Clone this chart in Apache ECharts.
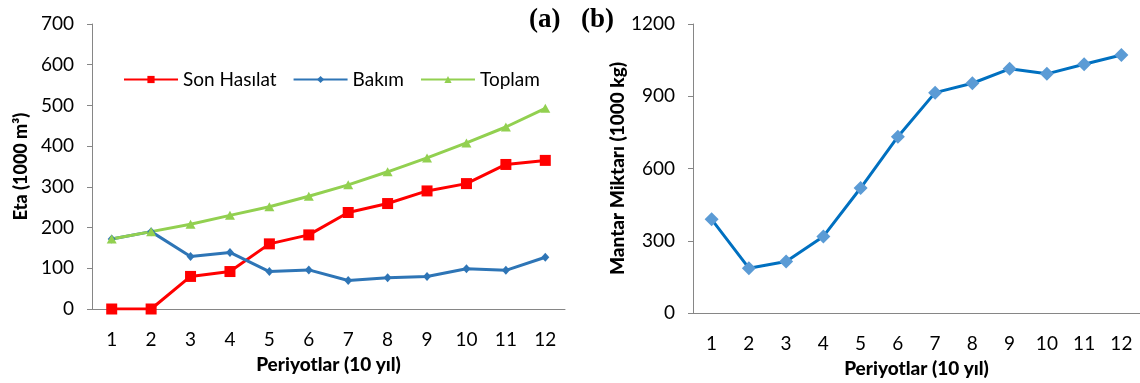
<!DOCTYPE html>
<html>
<head>
<meta charset="utf-8">
<script src="https://cdn.jsdelivr.net/npm/echarts@6/dist/echarts.min.js"></script>
<style>
  html, body { margin: 0; padding: 0; background: #fff; }
  #chart { width: 1140px; height: 383px; }
</style>
</head>
<body>
<div id="chart"></div>
<script>
// Periods (10-year steps)
const periods = ['1', '2', '3', '4', '5', '6', '7', '8', '9', '10', '11', '12'];

// (a) Harvest volume, 1000 m³
const sonHasilat = [0, 0, 80, 92, 160, 182, 237, 259, 290, 308, 355, 365];
const bakim      = [172, 190, 129, 139, 92, 96, 70, 77, 80, 99, 95, 127];
const toplam     = [172, 190, 208, 230, 251, 277, 305, 337, 371, 408, 447, 493];

// (b) Mushroom yield, 1000 kg
const mantar = [389, 186, 214, 318, 519, 732, 915, 954, 1014, 993, 1033, 1071];

const leftTicks = { min: 0, max: 700, interval: 100 };
const rightTicks = { min: 0, max: 1200, interval: 300 };

const FONT = 'Lato, "Liberation Sans", sans-serif';
const AXIS_GREY = '#868686';

const chart = echarts.init(document.getElementById('chart'), null, { renderer: 'canvas' });

function xAxisFor(gridIndex) {
  return {
    type: 'category',
    gridIndex: gridIndex,
    data: periods,
    boundaryGap: true,
    axisLine: { lineStyle: { color: AXIS_GREY, width: 1 } },
    axisTick: { show: false },
    axisLabel: { color: '#000', fontFamily: FONT, fontSize: 19, margin: 21 },
    name: 'Periyotlar (10 yıl)',
    nameLocation: 'middle',
    nameGap: 46,
    nameTextStyle: { color: '#000', fontFamily: FONT, fontWeight: 900, fontSize: 19 }
  };
}

function yAxisFor(gridIndex, ticks, name, gap, nameSize) {
  return {
    type: 'value',
    gridIndex: gridIndex,
    min: ticks.min,
    max: ticks.max,
    interval: ticks.interval,
    splitLine: { show: false },
    axisLine: { show: true, lineStyle: { color: AXIS_GREY, width: 1 } },
    axisTick: { show: true, length: 5, lineStyle: { color: AXIS_GREY } },
    axisLabel: {
      color: '#000', fontFamily: FONT, fontSize: 19, margin: 18,
      formatter: function (v) { return String(v); }
    },
    name: name,
    nameLocation: 'middle',
    nameGap: gap,
    nameRotate: 90,
    nameTextStyle: { color: '#000', fontFamily: FONT, fontWeight: 900, fontSize: nameSize }
  };
}

const option = {
  animation: false,
  backgroundColor: '#fff',
  textStyle: { fontFamily: FONT },
  grid: [
    { left: 92, top: 24, width: 473, height: 285 },
    { left: 693, top: 24, width: 447, height: 289 }
  ],
  title: [
    { text: '(a)', left: 524, top: 2, textStyle: { fontFamily: '"Liberation Serif", serif', fontWeight: 'bold', fontSize: 27, color: '#000' } },
    { text: '(b)', left: 576, top: 2, textStyle: { fontFamily: '"Liberation Serif", serif', fontWeight: 'bold', fontSize: 27, color: '#000' } }
  ],
  legend: {
    left: 118,
    top: 65,
    itemWidth: 54,
    itemHeight: 9,
    itemGap: 16,
    textStyle: { color: '#000', fontFamily: FONT, fontSize: 19 },
    data: ['Son Hasılat', 'Bakım', 'Toplam']
  },
  xAxis: [xAxisFor(0), xAxisFor(1)],
  yAxis: [
    yAxisFor(0, leftTicks, 'Eta (1000 m³)', 62, 18),
    yAxisFor(1, rightTicks, 'Mantar Miktarı (1000 kg)', 66, 19)
  ],
  series: [
    {
      name: 'Son Hasılat', type: 'line', xAxisIndex: 0, yAxisIndex: 0,
      data: sonHasilat, symbol: 'rect', symbolSize: 11,
      lineStyle: { color: '#FF0000', width: 3 },
      itemStyle: { color: '#FF0000' }
    },
    {
      name: 'Bakım', type: 'line', xAxisIndex: 0, yAxisIndex: 0,
      data: bakim, symbol: 'diamond', symbolSize: [8, 9],
      lineStyle: { color: '#2E75B6', width: 3 },
      itemStyle: { color: '#2E75B6' }
    },
    {
      name: 'Toplam', type: 'line', xAxisIndex: 0, yAxisIndex: 0,
      data: toplam, symbol: 'triangle', symbolSize: [10, 9],
      lineStyle: { color: '#92D050', width: 3 },
      itemStyle: { color: '#92D050' }
    },
    {
      name: 'Mantar', type: 'line', xAxisIndex: 1, yAxisIndex: 1,
      data: mantar, symbol: 'diamond', symbolSize: 14,
      lineStyle: { color: '#0070C0', width: 3 },
      itemStyle: { color: '#5B9BD5' }
    }
  ]
};

chart.setOption(option);
</script>
</body>
</html>
